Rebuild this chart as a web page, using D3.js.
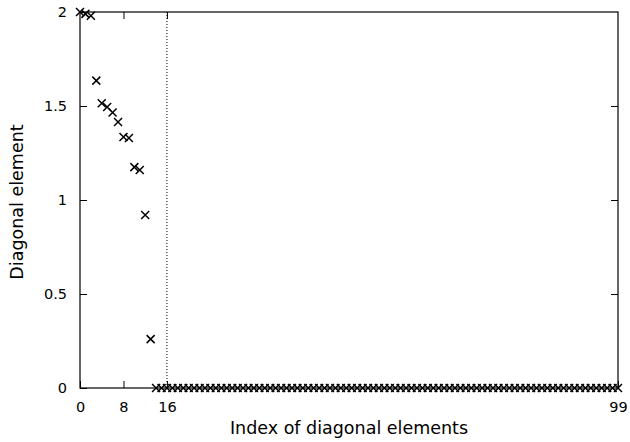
<!DOCTYPE html>
<html>
<head>
<meta charset="utf-8">
<script src="https://cdn.jsdelivr.net/npm/d3@7"></script>
<style>
body { margin: 0; background: #fff; }
text { font-family: "DejaVu Sans", Verdana, sans-serif; fill: #000; }
</style>
</head>
<body>
<svg id="chart" width="630" height="442"></svg>
<script>
// diagonal values, index 0..13, rest are zero
var head_values = [2.0, 1.99, 1.98, 1.635, 1.515, 1.495, 1.465, 1.415, 1.335, 1.33, 1.175, 1.16, 0.92, 0.26];
var n_total = 100;
var x_ticks = [0, 8, 16, 99];
var y_ticks = [0, 0.5, 1, 1.5, 2];
var cut_index = 16;

var diag = [];
for (var i = 0; i < n_total; i++)
	diag.push({idx: i, val: i < head_values.length ? head_values[i] : 0});

var L = 80, R = 618, T = 12, B = 388;
var svg = d3.select("#chart");

var x = d3.scaleLinear().domain([0, 99]).range([L, R]);
var y = d3.scaleLinear().domain([0, 2]).range([B, T]);

/* axes with inward ticks, mirrored */
svg.append("g")
	.attr("transform", "translate(0," + B + ")")
	.call(d3.axisBottom(x).tickValues(x_ticks).tickSize(-7).tickPadding(14).tickFormat(d3.format("d")))
	.call(function(g){ g.selectAll("text").attr("font-size", 14.5); });
svg.append("g")
	.attr("transform", "translate(0," + T + ")")
	.call(d3.axisTop(x).tickValues(x_ticks.slice(1, 3)).tickSize(-7).tickFormat(""));
svg.append("g")
	.attr("transform", "translate(" + L + ",0)")
	.call(d3.axisLeft(y).tickValues(y_ticks).tickSize(-7).tickPadding(13).tickFormat(d3.format("")))
	.call(function(g){ g.selectAll("text").attr("font-size", 14.5); });
svg.append("g")
	.attr("transform", "translate(" + R + ",0)")
	.call(d3.axisRight(y).tickValues(y_ticks.slice(1, 4)).tickSize(-7).tickFormat(""));

svg.selectAll(".domain").remove();
svg.selectAll(".tick line").attr("stroke", "#000").attr("stroke-width", 1);

svg.append("rect")
	.attr("x", L).attr("y", T)
	.attr("width", R - L).attr("height", B - T)
	.attr("fill", "none").attr("stroke", "#000").attr("stroke-width", 1.2);

/* dotted cut line */
svg.append("line")
	.attr("x1", x(cut_index)).attr("x2", x(cut_index))
	.attr("y1", y(0)).attr("y2", y(2))
	.attr("stroke", "#000").attr("stroke-width", 1)
	.attr("stroke-dasharray", "1,2");

/* cross markers */
var s = 4;
var marks = svg.append("g").attr("stroke", "#000").attr("stroke-width", 1.5);
marks.selectAll("path.pt")
	.data(diag)
	.enter().append("path")
	.attr("class", "pt")
	.attr("d", function(d){
		var cx = x(d.idx), cy = y(d.val);
		return "M" + (cx - s) + "," + (cy - s) + "L" + (cx + s) + "," + (cy + s)
			+ "M" + (cx - s) + "," + (cy + s) + "L" + (cx + s) + "," + (cy - s);
	});

/* titles */
svg.append("text")
	.attr("x", (L + R) / 2).attr("y", 434)
	.attr("text-anchor", "middle").attr("font-size", 17.5)
	.text("Index of diagonal elements");
svg.append("text")
	.attr("transform", "translate(23,202) rotate(-90)")
	.attr("text-anchor", "middle").attr("font-size", 17.5)
	.text("Diagonal element");
</script>
</body>
</html>
